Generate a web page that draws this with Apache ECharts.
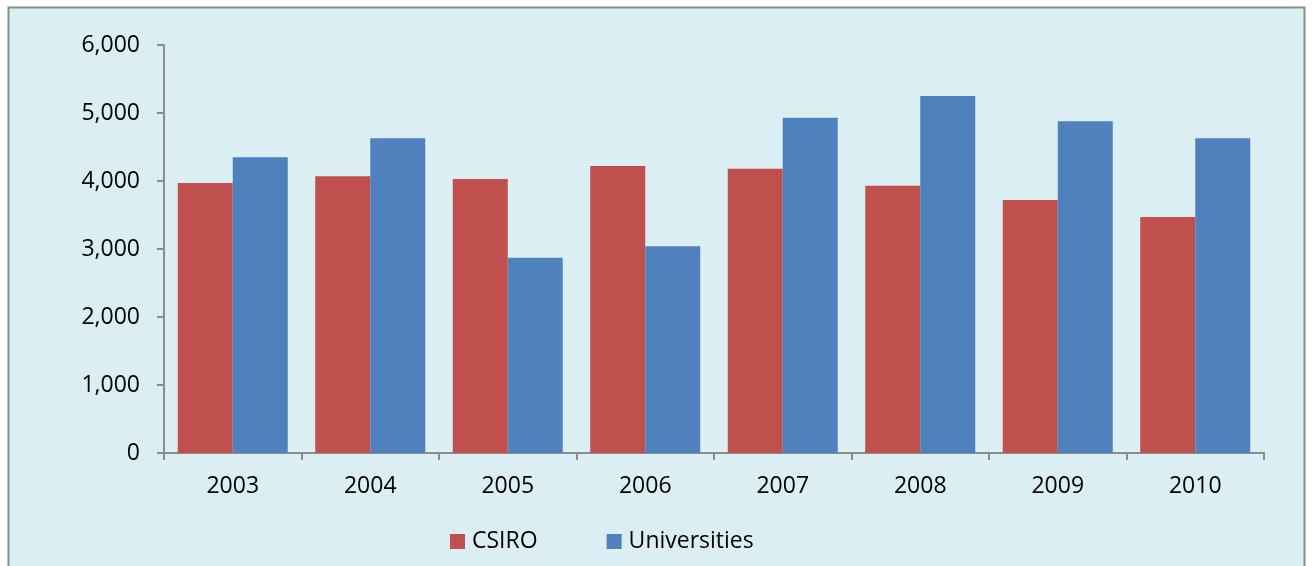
<!DOCTYPE html>
<html>
<head>
<meta charset="utf-8">
<script src="https://cdn.jsdelivr.net/npm/echarts@6/dist/echarts.min.js"></script>
<style>
html,body{margin:0;padding:0;background:#fff;}
#c{width:1312px;height:566px;}
</style>
</head>
<body>
<div id="c"></div>
<script>
var categories = ['2003','2004','2005','2006','2007','2008','2009','2010'];
var csiro = [3970, 4070, 4030, 4220, 4180, 3930, 3720, 3470];
var universities = [4350, 4630, 2870, 3040, 4930, 5250, 4880, 4630];
var yTicks = [0, 1000, 2000, 3000, 4000, 5000, 6000];

var chart = echarts.init(document.getElementById('c'), null, {renderer:'canvas'});
var font = '"Open Sans", "Noto Sans", sans-serif';
chart.setOption({
  animation: false,
  backgroundColor: '#fff',
  graphic: [{
    type: 'rect', z: -10, silent: true,
    shape: {x: 8.5, y: 7.5, width: 1296, height: 580},
    style: {fill: '#DBEEF4', stroke: '#8C8C8C', lineWidth: 2}
  }],
  grid: {left: 164, right: 48, top: 45, bottom: 113, containLabel: false},
  legend: {
    top: 525, left: 445,
    itemWidth: 15, itemHeight: 15, itemGap: 69,
    icon: 'rect',
    textStyle: {fontFamily: font, fontSize: 23, color: '#000', padding: [0,0,0,2]},
    data: ['CSIRO', 'Universities']
  },
  xAxis: {
    type: 'category',
    data: categories,
    axisLine: {lineStyle: {color: '#8C8C8C', width: 2}},
    axisTick: {show: true, length: 7, lineStyle: {color: '#8C8C8C', width: 2}},
    axisLabel: {fontFamily: font, fontSize: 23, color: '#000', margin: 22},
    splitLine: {show: false}
  },
  yAxis: {
    type: 'value',
    min: yTicks[0], max: yTicks[yTicks.length-1], interval: 1000,
    axisLine: {show: true, lineStyle: {color: '#8C8C8C', width: 2}},
    axisTick: {show: true, length: 7, lineStyle: {color: '#8C8C8C', width: 2}},
    axisLabel: {fontFamily: font, fontSize: 23, color: '#000', margin: 24,
      formatter: function(v){ return v.toLocaleString('en-US'); }},
    splitLine: {show: false}
  },
  series: [
    {name: 'CSIRO', type: 'bar', data: csiro, barGap: '0%', barCategoryGap: '20%',
     itemStyle: {color: '#C0504D'}},
    {name: 'Universities', type: 'bar', data: universities, barGap: '0%', barCategoryGap: '20%',
     itemStyle: {color: '#4F81BD'}}
  ]
});
</script>
</body>
</html>
